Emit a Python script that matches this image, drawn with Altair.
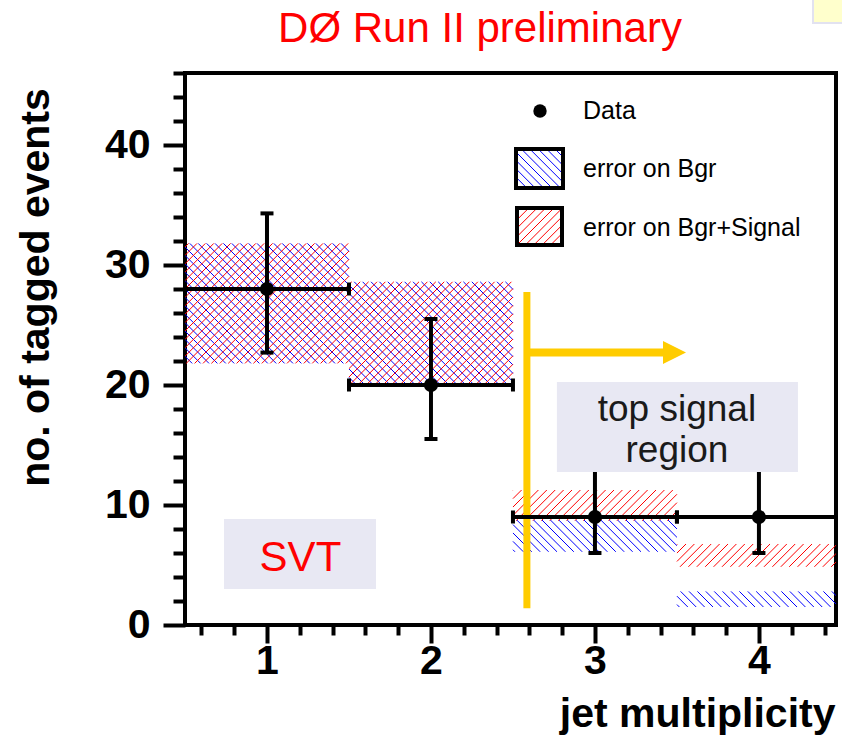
import altair as alt
import pandas as pd

# ---------------------------------------------------------------- data
bins = [1, 2, 3, 4]
bin_low = [0.5, 1.5, 2.5, 3.5]
bin_high = [1.5, 2.5, 3.5, 4.5]

data_counts = [28, 20, 9, 9]
data_err_low = [22.7, 15.5, 6.0, 6.0]
data_err_high = [34.3, 25.5, 13.1, 13.1]

# uncertainty bands: background only, and background + top signal
bgr_low = [21.8, 20.0, 6.1, 1.5]
bgr_high = [31.8, 28.6, 8.75, 2.8]
sig_low = [21.8, 20.0, 8.7, 4.85]
sig_high = [31.8, 28.6, 11.25, 6.75]

x_major = [1, 2, 3, 4]
x_minor = [0.6, 0.8, 1.2, 1.4, 1.6, 1.8, 2.2, 2.4, 2.6, 2.8,
           3.2, 3.4, 3.6, 3.8, 4.2, 4.4]
y_major = [0, 10, 20, 30, 40]
y_minor = [2, 4, 6, 8, 12, 14, 16, 18, 22, 24, 26, 28,
           32, 34, 36, 38, 42, 44, 46]

title_text = "DØ Run II preliminary"
x_title = "jet multiplicity"
y_title = "no. of tagged events"
legend_labels = ["Data", "error on Bgr", "error on Bgr+Signal"]
region_lines = ["top signal", "region"]
tag_text = "SVT"

# ---------------------------------------------------------------- layout
FONT = "Liberation Sans"
X_DOM = [0.5, 4.47]
Y_DOM = [0, 46]
PLOT_W, PLOT_H = 651, 552
PX_X = PLOT_W / (X_DOM[1] - X_DOM[0])
PX_Y = PLOT_H / (Y_DOM[1] - Y_DOM[0])
HATCH_STEP = 8.4   # px between hatch lines, measured horizontally
HATCH_W = 1.0

BLUE = "#0000ff"
RED = "#ff0000"
GOLD = "#ffcc00"
BOX_BG = "#e8e8f3"

xs = alt.Scale(domain=X_DOM, nice=False, zero=False)
ys = alt.Scale(domain=Y_DOM, nice=False, zero=False)


def hatch_lines(xa, xb, ya, yb, s, step=HATCH_STEP):
    """45-degree lines X + s*Y = c (c on a common grid) clipped to a box."""
    corners = [xa + s * ya, xa + s * yb, xb + s * ya, xb + s * yb]
    lo, hi = min(corners), max(corners)
    k = int(lo // step) + 1
    out = []
    while k * step < hi:
        c = k * step
        if s > 0:
            x0, x1 = max(xa, c - yb), min(xb, c - ya)
        else:
            x0, x1 = max(xa, ya + c), min(xb, yb + c)
        if x1 > x0:
            out.append((x0, s * (c - x0), x1, s * (c - x1)))
        k += 1
    return out


def band_hatch(low, high, s):
    """Hatch segments for every bin of a band, returned in data units."""
    rows = []
    for i in range(len(bins)):
        xa = (bin_low[i] - X_DOM[0]) * PX_X
        xb = (bin_high[i] - X_DOM[0]) * PX_X
        ya, yb = low[i] * PX_Y, high[i] * PX_Y
        for x0, y0, x1, y1 in hatch_lines(xa, xb, ya, yb, s):
            rows.append({"x": x0 / PX_X + X_DOM[0], "y": y0 / PX_Y,
                         "x2": x1 / PX_X + X_DOM[0], "y2": y1 / PX_Y})
    return pd.DataFrame(rows)


def band_layer(low, high, color, s):
    return alt.Chart(band_hatch(low, high, s)).mark_rule(
        color=color, strokeWidth=HATCH_W, clip=True
    ).encode(
        x=alt.X("x:Q", scale=xs, axis=None), x2="x2:Q",
        y=alt.Y("y:Q", scale=ys, axis=None), y2="y2:Q",
    )


def legend_swatch(x0, x1, y0, y1, color, s):
    segs = hatch_lines(x0, x1, y0, y1, s)
    seg_df = pd.DataFrame(segs, columns=["x", "y", "x2", "y2"])
    lines = alt.Chart(seg_df).mark_rule(color=color, strokeWidth=HATCH_W).encode(
        x=alt.X("x:Q", scale=None), x2="x2:Q",
        y=alt.Y("y:Q", scale=None), y2="y2:Q")
    frame = alt.Chart(one).mark_rect(
        fill=None, stroke="black", strokeWidth=4
    ).encode(x=alt.value(x0), x2=alt.value(x1), y=alt.value(y0), y2=alt.value(y1))
    return [lines, frame]


df = pd.DataFrame({
    "bin": bins, "lo": bin_low, "hi": bin_high,
    "n": data_counts, "elo": data_err_low, "ehi": data_err_high,
})
one = pd.DataFrame({"k": [0]})

layers = []

# hatched uncertainty bands (in y-up pixel space "\" is X + Y = c)
layers.append(band_layer(bgr_low, bgr_high, BLUE, +1))
layers.append(band_layer(sig_low, sig_high, RED, -1))

# signal-region marker: vertical bar and arrow
edge = pd.DataFrame({"x": [2.585], "y0": [1.4], "y1": [27.75]})
layers.append(alt.Chart(edge).mark_rule(color=GOLD, strokeWidth=7).encode(
    x=alt.X("x:Q", scale=xs, axis=None),
    y=alt.Y("y0:Q", scale=ys, axis=None), y2="y1:Q"))
arrow = pd.DataFrame({"x0": [2.585], "x1": [3.42], "tip": [3.485], "y": [22.7]})
layers.append(alt.Chart(arrow).mark_rule(color=GOLD, strokeWidth=8).encode(
    x=alt.X("x0:Q", scale=xs, axis=None), x2="x1:Q",
    y=alt.Y("y:Q", scale=ys, axis=None)))
layers.append(alt.Chart(arrow).mark_point(
    shape="M-1,-1L1,0L-1,1Z", filled=True, color=GOLD, opacity=1, size=530
).encode(x=alt.X("tip:Q", scale=xs, axis=None),
         y=alt.Y("y:Q", scale=ys, axis=None)))

# data: error bars with caps, carrying the minor-tick axes
minor_x = alt.Axis(values=x_minor, orient="bottom", tickSize=10, tickWidth=4,
                   tickColor="black", labels=False, domain=False, grid=False,
                   title=None)
minor_y = alt.Axis(values=y_minor, orient="left", tickSize=12, tickWidth=4,
                   tickColor="black", labels=False, domain=False, grid=False,
                   title=None)
layers.append(alt.Chart(df).mark_rule(color="black", strokeWidth=4).encode(
    x=alt.X("bin:Q", scale=xs, axis=minor_x),
    y=alt.Y("elo:Q", scale=ys, axis=minor_y), y2="ehi:Q"))
layers.append(alt.Chart(df).mark_rule(color="black", strokeWidth=4, clip=True).encode(
    x=alt.X("lo:Q", scale=xs, axis=None), x2="hi:Q",
    y=alt.Y("n:Q", scale=ys, axis=None)))
for fld in ["lo", "hi"]:
    layers.append(alt.Chart(df).mark_tick(
        orient="vertical", color="black", size=13, thickness=4, opacity=1, clip=True
    ).encode(x=alt.X(f"{fld}:Q", scale=xs, axis=None),
             y=alt.Y("n:Q", scale=ys, axis=None)))
for fld in ["elo", "ehi"]:
    layers.append(alt.Chart(df).mark_tick(
        orient="horizontal", color="black", size=13, thickness=4, opacity=1
    ).encode(x=alt.X("bin:Q", scale=xs, axis=None),
             y=alt.Y(f"{fld}:Q", scale=ys, axis=None)))

major_x = alt.Axis(values=x_major, orient="bottom", format="d", tickSize=18,
                   tickWidth=4, tickColor="black", domain=False, grid=False,
                   labelFont=FONT, labelFontSize=41, labelFontWeight="bold",
                   labelColor="black", labelPadding=-2, labelFlush=False,
                   labelOverlap=False,
                   title=x_title, titleFont=FONT, titleFontSize=41,
                   titleFontWeight="bold", titleColor="black",
                   titleX=650, titleY=101, titleAlign="right",
                   titleBaseline="alphabetic")
major_y = alt.Axis(values=y_major, orient="left", format="d", tickSize=22,
                   tickWidth=4, tickColor="black", domain=False, grid=False,
                   labelFont=FONT, labelFontSize=41, labelFontWeight="bold",
                   labelColor="black", labelPadding=13, labelFlush=False,
                   labelOverlap=False,
                   title=y_title, titleFont=FONT, titleFontSize=41,
                   titleFontWeight="bold", titleColor="black",
                   titleAngle=270, titleX=-137, titleY=214,
                   titleAlign="center", titleBaseline="alphabetic")
layers.append(alt.Chart(df).mark_point(
    filled=True, color="black", opacity=1, size=200
).encode(x=alt.X("bin:Q", scale=xs, axis=major_x),
         y=alt.Y("n:Q", scale=ys, axis=major_y)))

# labelled boxes
boxes = pd.DataFrame({"x0": [2.768, 0.738], "x1": [4.238, 1.665],
                      "y0": [12.75, 3.0], "y1": [20.25, 8.83]})
layers.append(alt.Chart(boxes).mark_rect(fill=BOX_BG).encode(
    x=alt.X("x0:Q", scale=xs, axis=None), x2="x1:Q",
    y=alt.Y("y0:Q", scale=ys, axis=None), y2="y1:Q"))
region_df = pd.DataFrame({"t": region_lines, "x": [3.5, 3.5], "y": [17.0, 13.58]})
layers.append(alt.Chart(region_df).mark_text(
    font=FONT, fontSize=37, color="#1a1a1a", align="center", baseline="alphabetic"
).encode(x=alt.X("x:Q", scale=xs, axis=None),
         y=alt.Y("y:Q", scale=ys, axis=None), text="t:N"))
tag_df = pd.DataFrame({"t": [tag_text], "x": [1.204], "y": [4.5]})
layers.append(alt.Chart(tag_df).mark_text(
    font=FONT, fontSize=42, color=RED, align="center", baseline="alphabetic"
).encode(x=alt.X("x:Q", scale=xs, axis=None),
         y=alt.Y("y:Q", scale=ys, axis=None), text="t:N"))

# legend (screen pixels, y pointing down: "\" is X - Y = c)
layers.append(alt.Chart(one).mark_point(
    filled=True, color="black", opacity=1, size=180
).encode(x=alt.value(355), y=alt.value(38)))
layers += legend_swatch(331, 378, 76, 115, BLUE, -1)
layers += legend_swatch(332, 377, 135, 172, RED, +1)
for label, base in zip(legend_labels, [46, 104, 163]):
    layers.append(alt.Chart(one).mark_text(
        text=label, font=FONT, fontSize=25, color="black",
        align="left", baseline="alphabetic"
    ).encode(x=alt.value(398), y=alt.value(base)))

# heading and corner note
layers.append(alt.Chart(one).mark_text(
    text=title_text, font=FONT, fontSize=42, color=RED,
    align="center", baseline="alphabetic"
).encode(x=alt.value(295), y=alt.value(-31)))
layers.append(alt.Chart(one).mark_rect(
    fill="#ffffcc", stroke="#e2e2f0", strokeWidth=2
).encode(x=alt.value(628), x2=alt.value(664), y=alt.value(-76), y2=alt.value(-50)))

chart = alt.layer(*layers).resolve_axis(
    x="independent", y="independent"
).properties(
    width=PLOT_W, height=PLOT_H,
    autosize=alt.AutoSizeParams(type="none"),
    padding={"left": 185, "top": 73, "right": 6, "bottom": 118},
    background="white",
).configure_view(
    stroke="black", strokeWidth=4
)

chart.save("out.html", embed_options={"renderer": "svg", "actions": False})
